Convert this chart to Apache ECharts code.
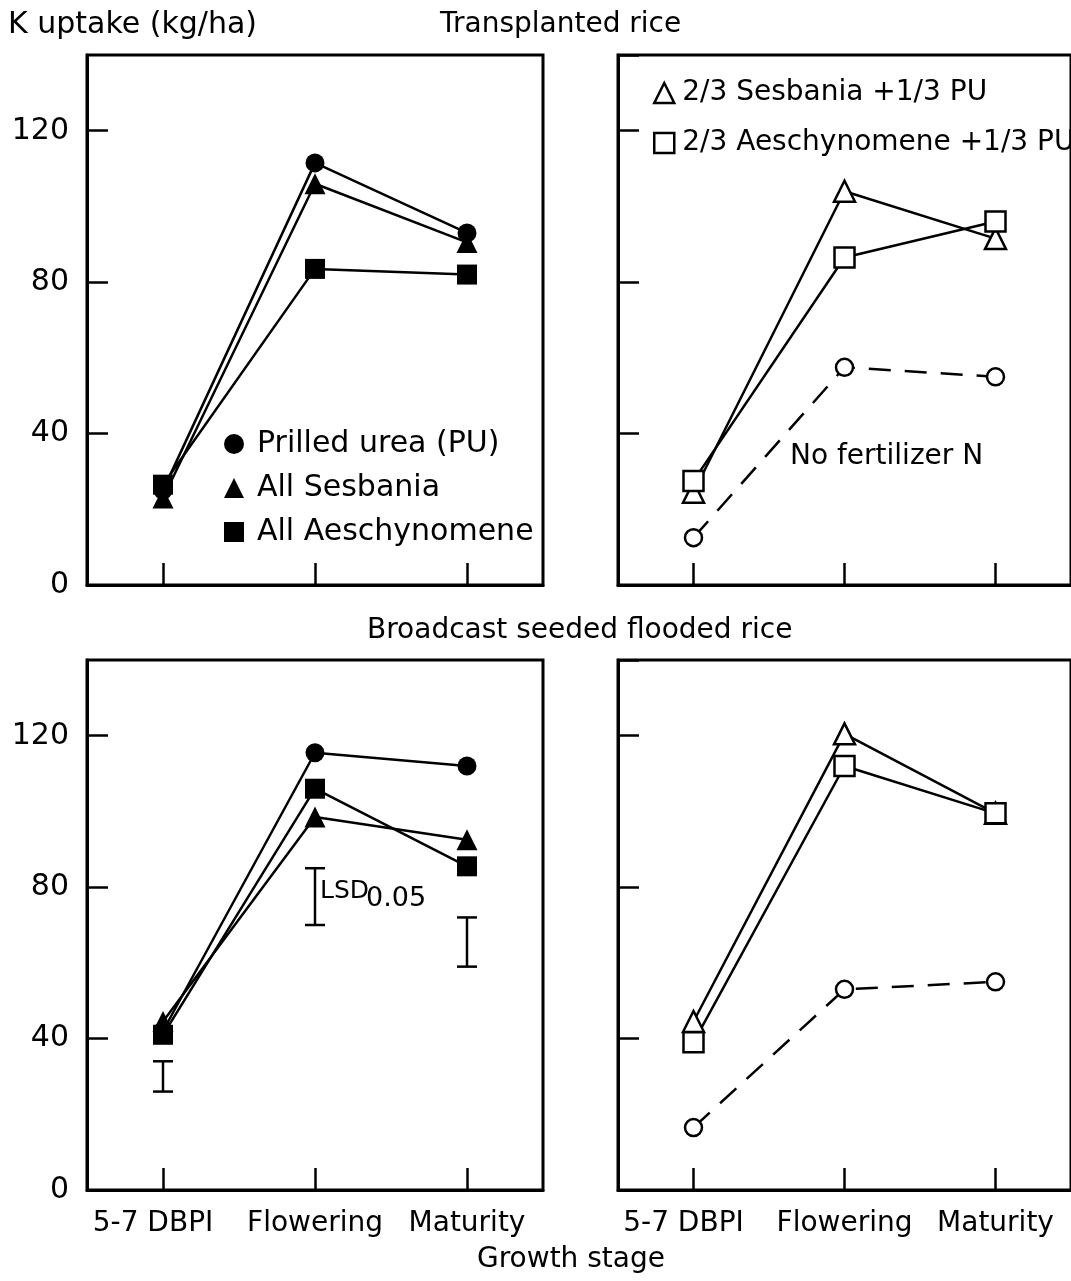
<!DOCTYPE html>
<html>
<head>
<meta charset="utf-8">
<script src="https://cdn.jsdelivr.net/npm/echarts@6/dist/echarts.min.js"></script>
<style>
  html, body { margin: 0; padding: 0; background: #fff; }
  #chart { width: 1071px; height: 1281px; }
</style>
</head>
<body>
<div id="chart"></div>
<script>
// growth stages (x categories)
var stages = ['5-7 DBPI', 'Flowering', 'Maturity'];

// Transplanted rice
var tpPU = [25, 111.5, 93];
var tpSes = [23, 106, 90.5];
var tpAes = [26.5, 83.5, 82];
var tpSesPU = [24.5, 104, 91.5];
var tpAesPU = [27.5, 86.5, 96];
var tpNoN = [12.5, 57.5, 55];

// Broadcast seeded flooded rice
var bsPU = [42, 115.5, 112];
var bsSes = [44.5, 98.5, 92.5];
var bsAes = [41, 106, 85.5];
var bsSesPU = [44.5, 120.5, 99.5];
var bsAesPU = [39, 112, 99.5];
var bsNoN = [16.5, 53, 55];

// LSD 0.05 bars (broadcast seeded, all-legume panel)
var lsdLow = [26, 70, 59];
var lsdHigh = [34, 85, 72];

var FONT = 'DejaVu Sans';

var myChart = echarts.init(document.getElementById('chart'));

var grids = [
    { left: 87, top: 55, width: 456, height: 530 },
    { left: 618, top: 55, width: 459, height: 530 },
    { left: 87, top: 660, width: 456, height: 530 },
    { left: 618, top: 660, width: 459, height: 530 }
];

function makeX(i) {
    return {
        type: 'category',
        gridIndex: i,
        data: stages,
        boundaryGap: true,
        axisLine: { show: true, lineStyle: { color: '#000', width: 3 } },
        axisTick: { show: true, inside: true, alignWithLabel: true, length: 22, lineStyle: { color: '#000', width: 2.5 } },
        axisLabel: {
            show: i >= 2,
            interval: 0,
            color: '#000',
            fontFamily: FONT,
            fontSize: 28,
            margin: 20,
            // first label sits a little left of its tick
            formatter: function (v, idx) { return idx === 0 ? '{a|' + v + '}' : v; },
            rich: { a: { fontFamily: FONT, fontSize: 28, color: '#000', padding: [0, 20, 0, 0] } }
        },
        splitLine: { show: false }
    };
}

function makeY(i) {
    return {
        type: 'value',
        gridIndex: i,
        min: 0,
        max: 140,
        interval: 40,
        axisLine: { show: true, lineStyle: { color: '#000', width: 3 } },
        axisTick: { show: true, inside: true, length: 21, lineStyle: { color: '#000', width: 2.5 } },
        axisLabel: { show: i % 2 === 0, showMaxLabel: false, color: '#000', fontFamily: FONT, fontSize: 30, margin: 18 },
        splitLine: { show: false }
    };
}

var filled = { color: '#000' };
var open = { color: '#fff', borderColor: '#000', borderWidth: 2.5 };

function makeLine(name, g, data, symbol, size, style, dashed) {
    return {
        name: name,
        type: 'line',
        xAxisIndex: g,
        yAxisIndex: g,
        data: data,
        symbol: symbol,
        symbolSize: size,
        showAllSymbol: true,
        lineStyle: { color: '#000', width: 2.5, type: dashed ? [22, 14] : 'solid' },
        itemStyle: style,
        z: 3
    };
}

var lsdData = stages.map(function (s, i) { return [i, lsdLow[i], lsdHigh[i]]; });

var option = {
    animation: false,
    backgroundColor: '#fff',
    grid: grids.map(function (g) {
        return Object.assign({ show: true, borderColor: '#000', borderWidth: 3, backgroundColor: 'transparent' }, g);
    }),
    xAxis: [makeX(0), makeX(1), makeX(2), makeX(3)],
    yAxis: [makeY(0), makeY(1), makeY(2), makeY(3)],
    legend: [
        {
            left: 219,
            top: 424,
            orient: 'vertical',
            itemWidth: 20,
            itemHeight: 20,
            itemGap: 14,
            selectedMode: false,
            textStyle: { color: '#000', fontFamily: FONT, fontSize: 30, padding: [0, 0, 0, 8] },
            data: [
                { name: 'Prilled urea (PU)', icon: 'circle', itemStyle: filled },
                { name: 'All Sesbania', icon: 'triangle', itemStyle: filled },
                { name: 'All Aeschynomene', icon: 'rect', itemStyle: filled }
            ]
        },
        {
            left: 648,
            top: 74,
            orient: 'vertical',
            itemWidth: 20,
            itemHeight: 20,
            itemGap: 22,
            selectedMode: false,
            textStyle: { color: '#000', fontFamily: FONT, fontSize: 28, padding: [0, 0, 0, 3] },
            data: [
                { name: '2/3 Sesbania +1/3 PU', icon: 'triangle', itemStyle: open },
                { name: '2/3 Aeschynomene +1/3 PU', icon: 'rect', itemStyle: open }
            ]
        }
    ],
    graphic: [
        { type: 'text', left: 8, top: 10, style: { text: 'K uptake (kg/ha)', fill: '#000', font: '30px "DejaVu Sans"' } },
        { type: 'text', left: 440, top: 11, style: { text: 'Transplanted rice', fill: '#000', font: '28px "DejaVu Sans"' } },
        { type: 'text', left: 367, top: 617, style: { text: 'Broadcast seeded flooded rice', fill: '#000', font: '28px "DejaVu Sans"' } },
        { type: 'text', left: 477, top: 1246, style: { text: 'Growth stage', fill: '#000', font: '28px "DejaVu Sans"' } },
        { type: 'text', left: 790, top: 443, style: { text: 'No fertilizer N', fill: '#000', font: '28px "DejaVu Sans"' } },
        { type: 'text', left: 320, top: 879, style: { text: 'LSD', fill: '#000', font: '25px "DejaVu Sans"' } },
        { type: 'text', left: 366, top: 885, style: { text: '0.05', fill: '#000', font: '27px "DejaVu Sans"' } }
    ],
    series: [
        // transplanted, all-N sources
        makeLine('Prilled urea (PU)', 0, tpPU, 'circle', 19, filled),
        makeLine('All Sesbania', 0, tpSes, 'triangle', 21, filled),
        makeLine('All Aeschynomene', 0, tpAes, 'rect', 20, filled),
        // transplanted, mixed
        makeLine('No fertilizer N', 1, tpNoN, 'circle', 17, open, true),
        makeLine('2/3 Sesbania +1/3 PU', 1, tpSesPU, 'triangle', 21, open),
        makeLine('2/3 Aeschynomene +1/3 PU', 1, tpAesPU, 'rect', 20, open),
        // broadcast, all-N sources
        makeLine('Prilled urea (PU)', 2, bsPU, 'circle', 19, filled),
        makeLine('All Sesbania', 2, bsSes, 'triangle', 21, filled),
        makeLine('All Aeschynomene', 2, bsAes, 'rect', 20, filled),
        // broadcast, mixed
        makeLine('No fertilizer N', 3, bsNoN, 'circle', 17, open, true),
        makeLine('2/3 Sesbania +1/3 PU', 3, bsSesPU, 'triangle', 21, open),
        makeLine('2/3 Aeschynomene +1/3 PU', 3, bsAesPU, 'rect', 20, open),
        // LSD bars
        {
            name: 'LSD',
            type: 'custom',
            xAxisIndex: 2,
            yAxisIndex: 2,
            data: lsdData,
            encode: { x: 0, y: [1, 2] },
            renderItem: function (params, api) {
                var top = api.coord([api.value(0), api.value(2)]);
                var bot = api.coord([api.value(0), api.value(1)]);
                var hw = 10;
                var st = { stroke: '#000', lineWidth: 2.5 };
                return {
                    type: 'group',
                    children: [
                        { type: 'line', shape: { x1: top[0], y1: top[1], x2: bot[0], y2: bot[1] }, style: st },
                        { type: 'line', shape: { x1: top[0] - hw, y1: top[1], x2: top[0] + hw, y2: top[1] }, style: st },
                        { type: 'line', shape: { x1: bot[0] - hw, y1: bot[1], x2: bot[0] + hw, y2: bot[1] }, style: st }
                    ]
                };
            }
        }
    ]
};

myChart.setOption(option);
</script>
</body>
</html>
